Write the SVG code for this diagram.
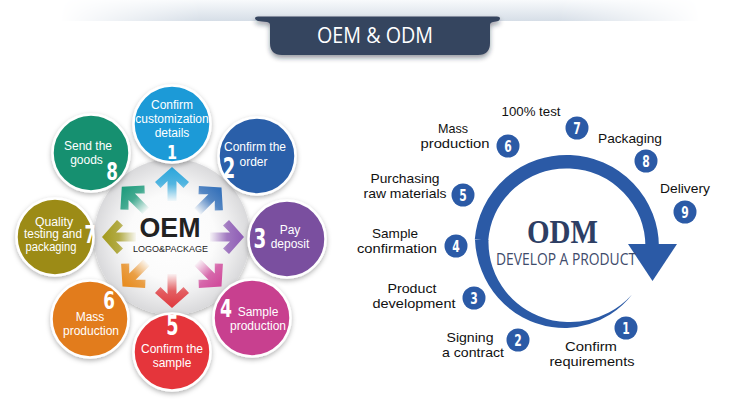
<svg xmlns="http://www.w3.org/2000/svg" width="750" height="416" viewBox="0 0 750 416">
<defs>
<style>
.ct{font-family:"Liberation Sans",Arial,sans-serif;font-size:12px;fill:#fff;text-anchor:middle}
.cn{font-family:"DejaVu Sans",sans-serif;font-weight:bold;fill:#fff;text-anchor:middle}
.lb{font-family:"Liberation Sans",Arial,sans-serif;font-size:13.4px;fill:#111;text-anchor:middle}
.bd{fill:#2b5aa6}
.bn{font-family:"DejaVu Sans",sans-serif;font-weight:bold;font-size:15px;fill:#fff;text-anchor:middle}
.node{stroke:#fff;stroke-width:2.5;filter:url(#sh)}
</style>
<filter id="sh" x="-30%" y="-30%" width="160%" height="160%"><feDropShadow dx="0" dy="2" stdDeviation="2.5" flood-color="#000" flood-opacity="0.3"/></filter>
<filter id="tsh" x="-10%" y="-30%" width="120%" height="180%"><feDropShadow dx="0" dy="3" stdDeviation="2.5" flood-color="#1a2030" flood-opacity="0.45"/></filter>
<linearGradient id="bandV" x1="0" y1="0" x2="0" y2="1"><stop offset="0" stop-color="#f8fafc"/><stop offset="1" stop-color="#d6dee7"/></linearGradient>
<linearGradient id="bandH" gradientUnits="userSpaceOnUse" x1="60" y1="0" x2="700" y2="0"><stop offset="0" stop-color="#000"/><stop offset="0.22" stop-color="#fff"/><stop offset="0.78" stop-color="#fff"/><stop offset="1" stop-color="#000"/></linearGradient>
<mask id="bandMask"><rect x="0" y="0" width="750" height="24" fill="url(#bandH)"/></mask>
<radialGradient id="disc" cx="0.5" cy="0.5" r="0.5"><stop offset="0" stop-color="#ffffff"/><stop offset="0.55" stop-color="#fbfbfb"/><stop offset="0.75" stop-color="#eeeeef"/><stop offset="1" stop-color="#d9d9db"/></radialGradient>
<path id="arw" d="M0,0 L17,15 L11.5,21 L4.5,14 L4.5,34 L-4.5,34 L-4.5,14 L-11.5,21 L-17,15 Z"/>
<linearGradient id="g1" gradientUnits="userSpaceOnUse" x1="0" y1="0" x2="0" y2="34"><stop offset="0" stop-color="#2aa6dc"/><stop offset="0.5" stop-color="#2aa6dc" stop-opacity="0.8"/><stop offset="1" stop-color="#2aa6dc" stop-opacity="0.05"/></linearGradient>
<linearGradient id="g2" gradientUnits="userSpaceOnUse" x1="0" y1="0" x2="0" y2="34"><stop offset="0" stop-color="#2f6db8"/><stop offset="0.5" stop-color="#2f6db8" stop-opacity="0.8"/><stop offset="1" stop-color="#2f6db8" stop-opacity="0.05"/></linearGradient>
<linearGradient id="g3" gradientUnits="userSpaceOnUse" x1="0" y1="0" x2="0" y2="34"><stop offset="0" stop-color="#8e5cb5"/><stop offset="0.5" stop-color="#8e5cb5" stop-opacity="0.8"/><stop offset="1" stop-color="#8e5cb5" stop-opacity="0.05"/></linearGradient>
<linearGradient id="g4" gradientUnits="userSpaceOnUse" x1="0" y1="0" x2="0" y2="34"><stop offset="0" stop-color="#d0479a"/><stop offset="0.5" stop-color="#d0479a" stop-opacity="0.8"/><stop offset="1" stop-color="#d0479a" stop-opacity="0.05"/></linearGradient>
<linearGradient id="g5" gradientUnits="userSpaceOnUse" x1="0" y1="0" x2="0" y2="34"><stop offset="0" stop-color="#e0393e"/><stop offset="0.5" stop-color="#e0393e" stop-opacity="0.8"/><stop offset="1" stop-color="#e0393e" stop-opacity="0.05"/></linearGradient>
<linearGradient id="g6" gradientUnits="userSpaceOnUse" x1="0" y1="0" x2="0" y2="34"><stop offset="0" stop-color="#e88a1a"/><stop offset="0.5" stop-color="#e88a1a" stop-opacity="0.8"/><stop offset="1" stop-color="#e88a1a" stop-opacity="0.05"/></linearGradient>
<linearGradient id="g7" gradientUnits="userSpaceOnUse" x1="0" y1="0" x2="0" y2="34"><stop offset="0" stop-color="#a39a1c"/><stop offset="0.5" stop-color="#a39a1c" stop-opacity="0.8"/><stop offset="1" stop-color="#a39a1c" stop-opacity="0.05"/></linearGradient>
<linearGradient id="g8" gradientUnits="userSpaceOnUse" x1="0" y1="0" x2="0" y2="34"><stop offset="0" stop-color="#1a9a7a"/><stop offset="0.5" stop-color="#1a9a7a" stop-opacity="0.8"/><stop offset="1" stop-color="#1a9a7a" stop-opacity="0.05"/></linearGradient>
</defs>
<rect width="750" height="416" fill="#fff"/>

<g id="header">
<rect x="0" y="0" width="750" height="21" fill="url(#bandV)" mask="url(#bandMask)"/>
<path d="M255,18.5 Q255,16.5 258,16.5 L497,16.5 Q500,16.5 500,18.5 Q500,21.5 493,22 Q490,22.5 490,25 L490,43 Q490,55 478,55 L282,55 Q270,55 270,43 L270,25 Q270,22.5 267,22 Q255,21.5 255,18.5 Z" fill="#36445f" filter="url(#tsh)"/>
<text x="375" y="43" font-family="Open Sans, sans-serif" font-size="21" fill="#fff" text-anchor="middle" textLength="116" lengthAdjust="spacingAndGlyphs">OEM &amp; ODM</text>
</g>

<g id="oem-center">
<circle cx="172" cy="237" r="78" fill="url(#disc)" filter="url(#sh)"/>
<text x="170" y="237" font-family="Liberation Sans, Arial, sans-serif" font-weight="bold" font-size="27" fill="#222" text-anchor="middle" textLength="61" lengthAdjust="spacingAndGlyphs">OEM</text>
<text x="170.5" y="252" font-family="Liberation Sans, Arial, sans-serif" font-size="9" fill="#222" text-anchor="middle">LOGO&amp;PACKAGE</text>
</g>

<g id="connectors">
<use href="#arw" fill="url(#g1)" transform="translate(172,237) rotate(0) translate(0,-70)"/>
<use href="#arw" fill="url(#g2)" transform="translate(172,237) rotate(45) translate(0,-70)"/>
<use href="#arw" fill="url(#g3)" transform="translate(172,237) rotate(90) translate(0,-72)"/>
<use href="#arw" fill="url(#g4)" transform="translate(172,237) rotate(135) translate(0,-70)"/>
<use href="#arw" fill="url(#g5)" transform="translate(172,237) rotate(180) translate(0,-71)"/>
<use href="#arw" fill="url(#g6)" transform="translate(172,237) rotate(225) translate(0,-70)"/>
<use href="#arw" fill="url(#g7)" transform="translate(172,237) rotate(270) translate(0,-70)"/>
<use href="#arw" fill="url(#g8)" transform="translate(172,237) rotate(315) translate(0,-71)"/>
</g>

<g id="oem-step1">
<circle class="node" cx="172" cy="124" r="38.5" fill="#1b9ad7"/>
<text class="ct" x="172" y="109">Confirm</text>
<text class="ct" x="172" y="123">customization</text>
<text class="ct" x="172" y="137">details</text>
<text class="cn" font-size="20" transform="translate(172,159) scale(0.72,1)">1</text>
</g>
<g id="oem-step2">
<circle class="node" cx="257" cy="156" r="38.5" fill="#2c5fa9"/>
<text class="ct" x="255" y="151">Confirm the</text>
<text class="ct" x="253.5" y="166">order</text>
<text class="cn" font-size="29" transform="translate(229,178) scale(0.62,1)">2</text>
</g>
<g id="oem-step3">
<circle class="node" cx="287" cy="239" r="38.5" fill="#7a4f9f"/>
<text class="ct" x="290" y="234">Pay</text>
<text class="ct" x="290" y="248">deposit</text>
<text class="cn" font-size="27" transform="translate(260,248) scale(0.68,1)">3</text>
</g>
<g id="oem-step4">
<circle class="node" cx="252" cy="318" r="38.5" fill="#c8408f"/>
<text class="ct" x="258" y="316">Sample</text>
<text class="ct" x="258" y="330">production</text>
<text class="cn" font-size="24" transform="translate(226,317) scale(0.72,1)">4</text>
</g>
<g id="oem-step5">
<circle class="node" cx="172" cy="352" r="38.5" fill="#e5363b"/>
<text class="cn" font-size="26" transform="translate(172.5,335) scale(0.68,1)">5</text>
<text class="ct" x="172" y="353">Confirm the</text>
<text class="ct" x="172" y="367">sample</text>
</g>
<g id="oem-step6">
<circle class="node" cx="90" cy="319" r="38.5" fill="#e27c1c"/>
<text class="cn" font-size="24" transform="translate(109,309) scale(0.7,1)">6</text>
<text class="ct" x="90" y="321">Mass</text>
<text class="ct" x="91" y="335">production</text>
</g>
<g id="oem-step7">
<circle class="node" cx="55" cy="237" r="38.5" fill="#9c8b12"/>
<text class="ct" x="54" y="225.5" font-size="11" textLength="38" lengthAdjust="spacingAndGlyphs">Quality</text>
<text class="ct" x="53" y="238" font-size="11" textLength="58" lengthAdjust="spacingAndGlyphs">testing and</text>
<text class="ct" x="51" y="250.5" font-size="11" textLength="51" lengthAdjust="spacingAndGlyphs">packaging</text>
<text class="cn" font-size="24" transform="translate(90,243) scale(0.65,1)">7</text>
</g>
<g id="oem-step8">
<circle class="node" cx="91" cy="153" r="38.5" fill="#19906f"/>
<text class="ct" x="88" y="150">Send the</text>
<text class="ct" x="86.5" y="164">goods</text>
<text class="cn" font-size="24" transform="translate(112,180) scale(0.7,1)">8</text>
</g>

<g id="odm-ring" fill="#2b5aa6">
<path d="M481.5,240 A85.5,85.5 0 0 1 652.2,247" fill="none" stroke="#2b5aa6" stroke-width="13.5"/>
<path d="M628,244 L677,244 L652.5,281 Z"/>
<path d="M475,240 A91.5,91.5 0 0 0 481.8,271 A90.7,90.7 0 0 0 498.1,297.8 A90,90 0 0 0 522.4,317.2 A89,89 0 0 0 551.7,327 A88.2,88.2 0 0 0 567,328 A87.5,87.5 0 0 0 589.5,324.1 A86.6,86.6 0 0 0 610.1,314.6 A85.6,85.6 0 0 0 632.1,294.6 A84,84 0 0 1 608.9,312.6 A83.4,83.4 0 0 1 588.5,320.1 A82.5,82.5 0 0 1 567,322 A81.8,81.8 0 0 1 552.8,320.4 A81.2,81.2 0 0 1 526.6,310 A80.4,80.4 0 0 1 505.7,291.5 A79.7,79.7 0 0 1 492.5,267.1 A78.9,78.9 0 0 1 488.5,240 Z"/>
</g>

<g id="odm-center">
<text x="562.5" y="243" font-family="Liberation Serif, serif" font-weight="bold" font-size="33" fill="#2d3e64" text-anchor="middle" textLength="71" lengthAdjust="spacingAndGlyphs">ODM</text>
<text x="566" y="265" font-family="Open Sans, sans-serif" font-size="16" fill="#3e4b6b" text-anchor="middle" textLength="140" lengthAdjust="spacingAndGlyphs">DEVELOP A PRODUCT</text>
</g>

<g id="odm-step1">
<circle class="bd" cx="626" cy="328" r="11.5"/><text class="bn" transform="translate(626,333.5) scale(0.72,1)">1</text>
<text class="lb" x="591" y="351" textLength="52" lengthAdjust="spacingAndGlyphs">Confirm</text>
<text class="lb" x="592" y="366" textLength="85" lengthAdjust="spacingAndGlyphs">requirements</text>
</g>
<g id="odm-step2">
<circle class="bd" cx="518" cy="340" r="11.5"/><text class="bn" transform="translate(518,345.5) scale(0.72,1)">2</text>
<text class="lb" x="470" y="342" textLength="47" lengthAdjust="spacingAndGlyphs">Signing</text>
<text class="lb" x="473" y="357" textLength="62" lengthAdjust="spacingAndGlyphs">a contract</text>
</g>
<g id="odm-step3">
<circle class="bd" cx="474" cy="298" r="11.5"/><text class="bn" transform="translate(474,303.5) scale(0.72,1)">3</text>
<text class="lb" x="412" y="293" textLength="49" lengthAdjust="spacingAndGlyphs">Product</text>
<text class="lb" x="414" y="308" textLength="83" lengthAdjust="spacingAndGlyphs">development</text>
</g>
<g id="odm-step4">
<circle class="bd" cx="456" cy="246" r="11.5"/><text class="bn" transform="translate(456,251.5) scale(0.72,1)">4</text>
<text class="lb" x="395" y="238" textLength="46" lengthAdjust="spacingAndGlyphs">Sample</text>
<text class="lb" x="397" y="253" textLength="80" lengthAdjust="spacingAndGlyphs">confirmation</text>
</g>
<g id="odm-step5">
<circle class="bd" cx="463" cy="195" r="11.5"/><text class="bn" transform="translate(463,200.5) scale(0.72,1)">5</text>
<text class="lb" x="405" y="183" textLength="69" lengthAdjust="spacingAndGlyphs">Purchasing</text>
<text class="lb" x="405" y="198" textLength="83" lengthAdjust="spacingAndGlyphs">raw materials</text>
</g>
<g id="odm-step6">
<circle class="bd" cx="508" cy="146" r="11.5"/><text class="bn" transform="translate(508,151.5) scale(0.72,1)">6</text>
<text class="lb" x="453" y="133" textLength="30" lengthAdjust="spacingAndGlyphs">Mass</text>
<text class="lb" x="455" y="148" textLength="69" lengthAdjust="spacingAndGlyphs">production</text>
</g>
<g id="odm-step7">
<circle class="bd" cx="577" cy="128" r="11.5"/><text class="bn" transform="translate(577,133.5) scale(0.72,1)">7</text>
<text class="lb" x="531" y="116" textLength="59" lengthAdjust="spacingAndGlyphs">100% test</text>
</g>
<g id="odm-step8">
<circle class="bd" cx="646" cy="161" r="11.5"/><text class="bn" transform="translate(646,166.5) scale(0.72,1)">8</text>
<text class="lb" x="630" y="143" textLength="64" lengthAdjust="spacingAndGlyphs">Packaging</text>
</g>
<g id="odm-step9">
<circle class="bd" cx="685" cy="212" r="11.5"/><text class="bn" transform="translate(685,217.5) scale(0.72,1)">9</text>
<text class="lb" x="685" y="193" textLength="50" lengthAdjust="spacingAndGlyphs">Delivery</text>
</g>
</svg>
